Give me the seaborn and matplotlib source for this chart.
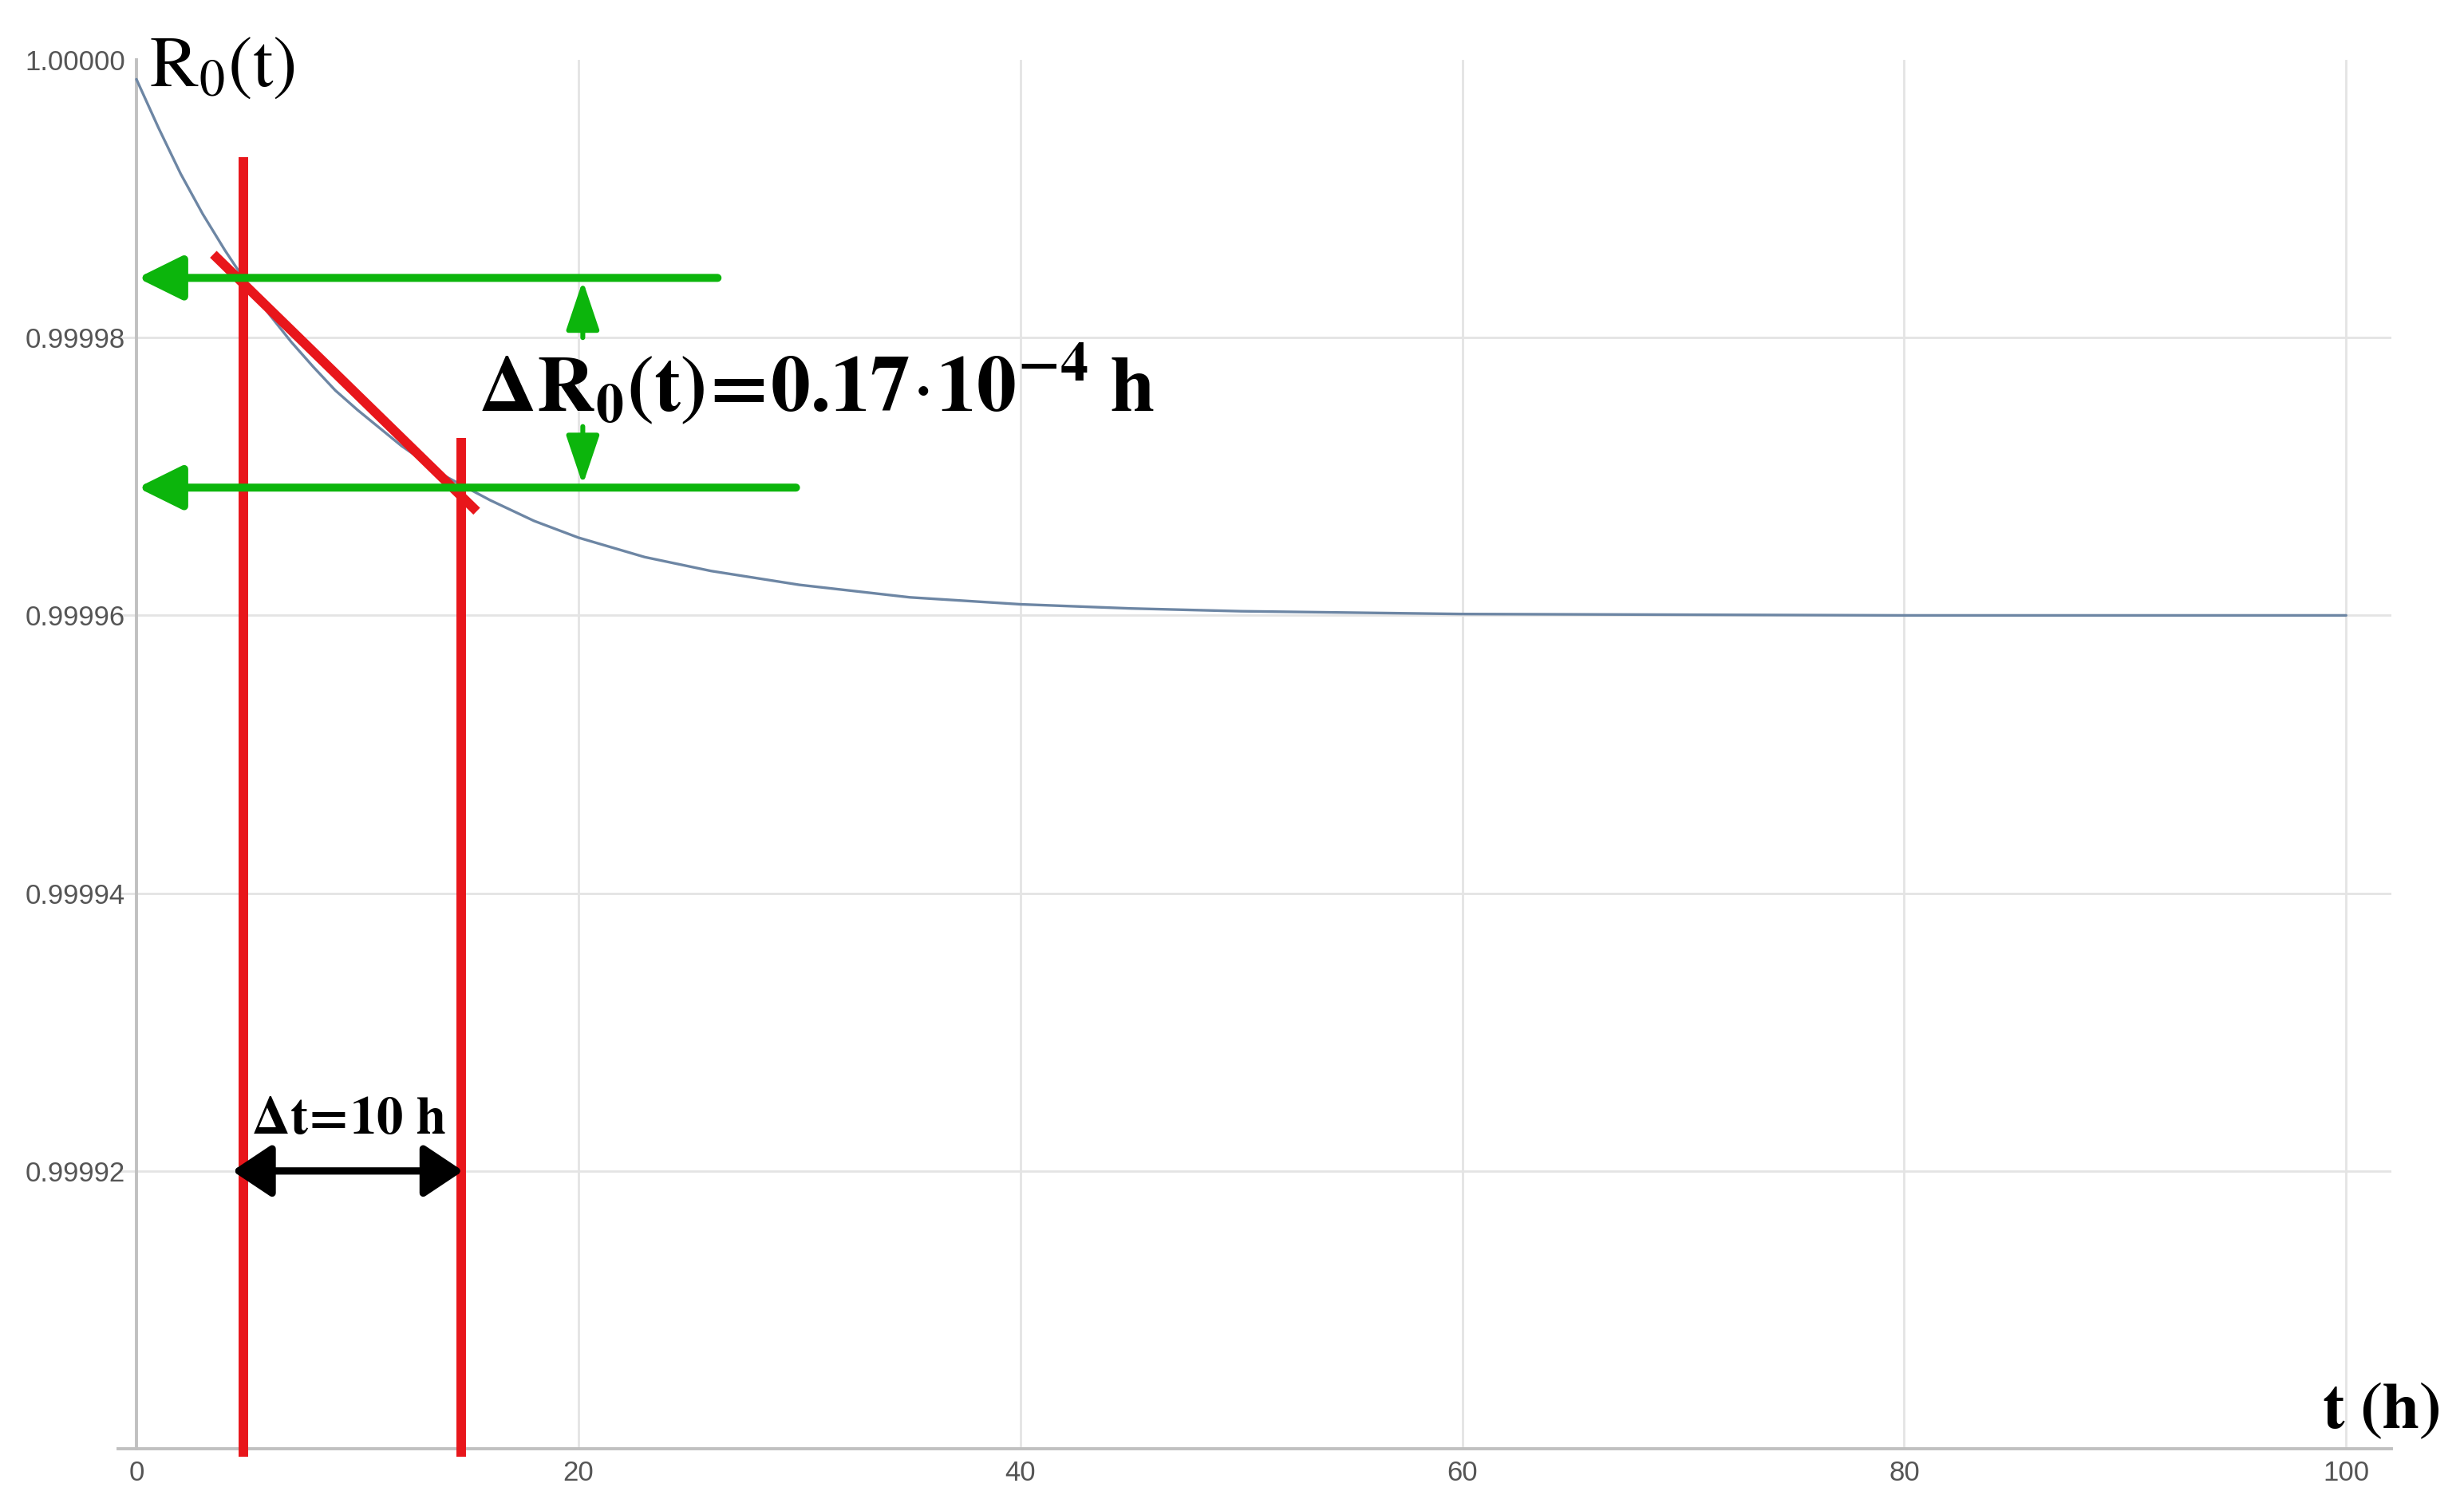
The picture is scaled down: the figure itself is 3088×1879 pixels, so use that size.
import numpy as np
import pandas as pd
import matplotlib.pyplot as plt
from matplotlib.ticker import MultipleLocator, FormatStrFormatter
import seaborn as sns

# curve R0(t)
t_h = [0, 1, 2, 3, 4, 5, 6, 7, 8, 9, 10, 12, 14, 16, 18, 20, 23, 26, 30, 35,
       40, 45, 50, 60, 70, 80, 90, 100]
r0 = [0.9999986, 0.9999951, 0.9999918, 0.9999889, 0.9999863, 0.9999839,
      0.9999817, 0.9999797, 0.9999779, 0.9999762, 0.9999748, 0.9999722,
      0.9999700, 0.9999683, 0.9999668, 0.9999656, 0.9999642, 0.9999632,
      0.9999622, 0.9999613, 0.9999608, 0.9999605, 0.9999603, 0.9999601,
      0.99996005, 0.9999600, 0.9999600, 0.9999600]

# construction marks
t_marks = [4.83, 14.7]              # red verticals
r_marks = [0.9999843, 0.9999692]    # green levels
tangent_t = [3.48, 15.4]
tangent_r = [0.999986, 0.9999675]

x_ticks = [0, 20, 40, 60, 80, 100]
y_ticks = [0.99992, 0.99994, 0.99996, 0.99998, 1.00000]

sns.set_theme(style="white")
plt.rcParams['font.family'] = ['Liberation Sans', 'DejaVu Sans']
plt.rcParams['mathtext.fontset'] = 'stix'

RED = "#e8161b"
GREEN = "#0cb50c"
CURVE = "#6d86a4"
GRAY = "#c0c0c0"

fig = plt.figure(figsize=(15.44, 9.395), dpi=200)
ax = fig.add_axes([148 / 3088, 1 - 1816 / 1879, (2997 - 148) / 3088, (1816 - 75) / 1879])
ax.set_xlim(-0.83, 102.05)
ax.set_ylim(0.9999, 1.0)

df = pd.DataFrame({"t": t_h, "R0": r0})
sns.lineplot(data=df, x="t", y="R0", ax=ax, color=CURVE, lw=1.2, zorder=3)

# axes styling (Mathematica-like)
for s in ["top", "right"]:
    ax.spines[s].set_visible(False)
ax.spines["left"].set_position(("data", 0))
for s in ["left", "bottom"]:
    ax.spines[s].set_color(GRAY)
    ax.spines[s].set_linewidth(1.4)

ax.set_xticks(x_ticks)
ax.set_yticks(y_ticks)
ax.xaxis.set_minor_locator(MultipleLocator(5))
ax.yaxis.set_minor_locator(MultipleLocator(0.000005))
ax.yaxis.set_major_formatter(FormatStrFormatter("%.5f"))
ax.tick_params(which="major", direction="in", length=4, width=1, color="#999999",
               labelsize=12.5, labelcolor="#555555", pad=5)
ax.tick_params(which="minor", direction="in", length=2.5, width=0.8, color="#aaaaaa")
ax.grid(True, which="major", color="#e4e4e4", lw=1.0)
ax.yaxis.get_major_ticks()[-1].gridline.set_visible(False)
ax.xaxis.get_major_ticks()[0].gridline.set_visible(False)
ax.set_xlabel("")
ax.set_ylabel("")

# red construction: verticals and tangent
ax.plot([t_marks[0], t_marks[0]], [0.999993, 0.99989944], color=RED, lw=4.3,
        solid_capstyle="butt", clip_on=False, zorder=4)
ax.plot([t_marks[1], t_marks[1]], [0.9999728, 0.99989944], color=RED, lw=4.3,
        solid_capstyle="butt", clip_on=False, zorder=4)
ax.plot(tangent_t, tangent_r, color=RED, lw=4.3, solid_capstyle="butt", zorder=4)

# green level arrows
for r, xe in zip(r_marks, [26.3, 29.85]):
    ax.annotate("", xy=(0.05, r), xytext=(xe, r),
                arrowprops=dict(arrowstyle="-|>,head_length=0.85,head_width=0.42",
                                color=GREEN, lw=3.6, mutation_scale=20,
                                shrinkA=0, shrinkB=0), zorder=5)
ax.annotate("", xy=(20.2, r_marks[0] - 0.0000002), xytext=(20.2, 0.99998),
            arrowprops=dict(arrowstyle="-|>,head_length=0.95,head_width=0.32",
                            color=GREEN, lw=2.2, mutation_scale=20,
                            shrinkA=0, shrinkB=0), zorder=5)
ax.annotate("", xy=(20.2, r_marks[1] + 0.0000002), xytext=(20.2, 0.9999736),
            arrowprops=dict(arrowstyle="-|>,head_length=0.95,head_width=0.32",
                            color=GREEN, lw=2.2, mutation_scale=20,
                            shrinkA=0, shrinkB=0), zorder=5)

# black interval arrow
ax.annotate("", xy=(4.34, 0.99992), xytext=(14.78, 0.99992),
            arrowprops=dict(arrowstyle="<|-|>,head_length=0.75,head_width=0.5",
                            color="black", lw=3.3, mutation_scale=20,
                            shrinkA=0, shrinkB=0), zorder=5)

# labels
ax.text(0.57, 0.9999981, r"$\mathrm{R_0(t)}$", fontsize=33, va="baseline", color="black")
ax.text(15.5, 0.9999747,
        r"$\mathbf{\Delta R_0(t)\!=\!0.17}\!\cdot\!\mathbf{10^{-4}\ h}$",
        fontsize=36, va="baseline", color="black")
ax.text(5.19, 0.9999227, r"$\mathbf{\Delta t\!=\!10\ h}$", fontsize=24,
        va="baseline", color="black")
ax.text(98.9, 0.9999015, r"$\mathbf{t\ (h)}$", fontsize=30, va="baseline", color="black")

fig.savefig("out.png", dpi=200, facecolor="white")
